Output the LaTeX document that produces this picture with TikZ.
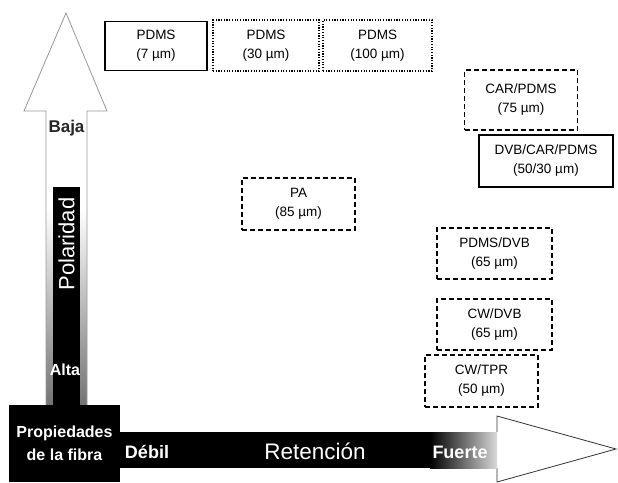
\documentclass[tikz,border=0pt]{standalone}
\usepackage{fontspec}
\setmainfont{Liberation Sans}
\usetikzlibrary{positioning}

\begin{document}
\begin{tikzpicture}[x=1pt,y=-1pt,
  caja/.style={draw,align=center,inner sep=0pt,font=\fontsize{13.5}{19}\selectfont,line width=1.3pt},
  solida/.style={caja,line width=1.8pt},
  punteada/.style={caja,dash pattern=on 1.2pt off 1.5pt,line width=1.5pt},
  discontinua/.style={caja,dash pattern=on 5pt off 3pt},
  etiqueta/.style={font=\bfseries\fontsize{18}{20}\selectfont,text=white}
]
\useasboundingbox (0,0) rectangle (618,482);

% eje vertical
\draw[black!40,line width=0.8pt,top color=white,bottom color=black!55,middle color=white]
  (46,405) -- (46,111) -- (24,111) -- (66,13) -- (107,111) -- (87,111) -- (87,405);
\fill[black] (53,187) rectangle (80,405);
\node[font=\bfseries\fontsize{17}{18}\selectfont,text=black!85] (baja) at (66.5,128) {Baja};
\node[rotate=90,font=\fontsize{22}{24}\selectfont,text=white] (polaridad) at (66.5,244) {Polaridad};
\node[font=\bfseries\fontsize{16}{18}\selectfont,text=white] (alta) at (65,370) {Alta};

% eje horizontal
\draw[black!80,line width=0.8pt,fill=white]
  (497,432) -- (497,416) -- (616,449) -- (497,482) -- (497,468);
\fill[black] (120,432) rectangle (430,468);
\shade[left color=black,right color=black!15] (430,432) rectangle (497,468);
\node[etiqueta] (debil) at (147,452) {Débil};
\node[font=\fontsize{22.5}{24}\selectfont,text=white] (retencion) at (315,451) {Retención};
\node[etiqueta] (fuerte) at (460,452) {Fuerte};

\node[fill=black,text=white,minimum width=111pt,minimum height=77pt,align=center,
  font=\bfseries\fontsize{16}{23}\selectfont] (prop) at (64.5,443.5) {Propiedades\\de la fibra};

% fibras
\node[solida,minimum width=102pt,minimum height=49pt] (p7) at (156,46) {PDMS\\(7 µm)};
\node[punteada,minimum width=106pt,minimum height=51pt] (p30) at (266,45.5) {PDMS\\(30 µm)};
\node[punteada,minimum width=109pt,minimum height=51pt] (p100) at (377.5,45.5) {PDMS\\(100 µm)};
\node[discontinua,minimum width=113pt,minimum height=60pt] (carpdms) at (521,100) {CAR/PDMS\\(75 µm)};
\node[solida,minimum width=134pt,minimum height=52pt] (dvbcar) at (546,161) {DVB/CAR/PDMS\\(50/30 µm)};
\node[discontinua,minimum width=113pt,minimum height=52pt] (pa) at (298.5,204) {PA\\(85 µm)};
\node[discontinua,minimum width=115pt,minimum height=51pt] (pdmsdvb) at (494.5,253.5) {PDMS/DVB\\(65 µm)};
\node[discontinua,minimum width=115pt,minimum height=51pt] (cwdvb) at (494.5,324.5) {CW/DVB\\(65 µm)};
\node[discontinua,minimum width=113pt,minimum height=52pt] (cwtpr) at (481.5,381) {CW/TPR\\(50 µm)};
\end{tikzpicture}
\end{document}
